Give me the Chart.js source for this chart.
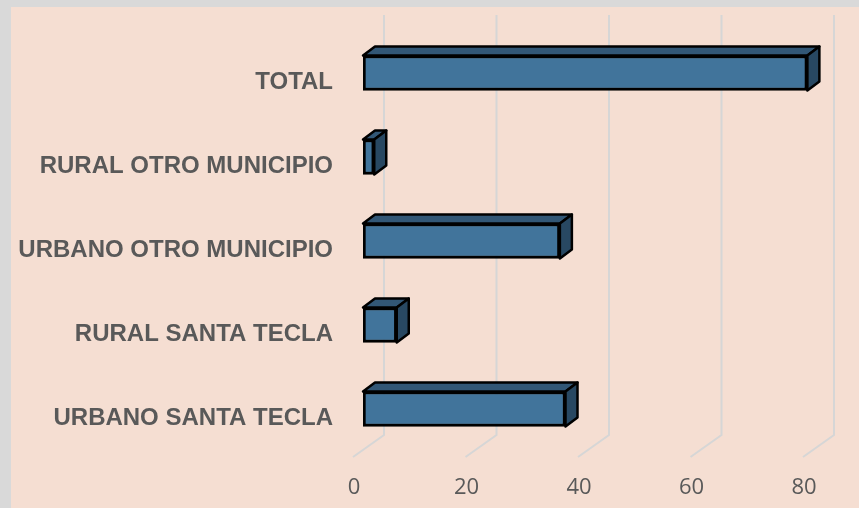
<!DOCTYPE html>
<html lang="es">
<head>
  <meta charset="UTF-8">
  <title>Procedencia</title>
  <script src="https://cdn.jsdelivr.net/npm/chart.js"></script>
  <style>
    body { margin: 0; background: #d9d9d9; }
    #wrap { position: absolute; left: 11px; top: 7px; width: 848px; height: 501px; background: #f5ded2; }
  </style>
</head>
<body>
  <div id="wrap"><canvas id="chart" width="848" height="501"></canvas></div>

  <script>
    // datos
    const categories = ['URBANO SANTA TECLA', 'RURAL SANTA TECLA', 'URBANO OTRO MUNICIPIO', 'RURAL OTRO MUNICIPIO', 'TOTAL'];
    const values = [36, 6, 35, 2, 79];
    const tickValues = [0, 20, 40, 60, 80];

    // 3D offsets
    const depth = { dx: 12, dy: -9 };
    const gridFront = { dx: -10, dy: 6 };
    const gridBack = { dx: 21, dy: -16 };

    const grid3d = {
      id: 'grid3d',
      beforeDatasetsDraw(chart) {
        const ctx = chart.ctx;
        const xs = chart.scales.x;
        const area = chart.chartArea;
        ctx.save();
        ctx.strokeStyle = '#d6d6d6';
        ctx.lineWidth = 2;
        tickValues.forEach(v => {
          const p = xs.getPixelForValue(v);
          ctx.beginPath();
          ctx.moveTo(p + gridFront.dx, area.bottom + gridFront.dy);
          ctx.lineTo(p + gridBack.dx, area.bottom + gridBack.dy);
          ctx.lineTo(p + gridBack.dx, area.top - 16);
          ctx.stroke();
        });
        ctx.restore();
      }
    };

    const bars3d = {
      id: 'bars3d',
      afterDatasetsDraw(chart) {
        const ctx = chart.ctx;
        const meta = chart.getDatasetMeta(0);
        ctx.save();
        ctx.lineWidth = 2.5;
        ctx.lineJoin = 'round';
        ctx.strokeStyle = '#000';
        meta.data.forEach(bar => {
          const { x, y, base, height } = bar.getProps(['x', 'y', 'base', 'height'], true);
          const l = base, r = x, t = y - height / 2, b = y + height / 2;
          // cara superior
          ctx.beginPath();
          ctx.moveTo(l, t);
          ctx.lineTo(l + depth.dx, t + depth.dy);
          ctx.lineTo(r + depth.dx, t + depth.dy);
          ctx.lineTo(r, t);
          ctx.closePath();
          ctx.fillStyle = '#325776';
          ctx.fill();
          ctx.stroke();
          // cara lateral
          ctx.beginPath();
          ctx.moveTo(r, t);
          ctx.lineTo(r + depth.dx, t + depth.dy);
          ctx.lineTo(r + depth.dx, b + depth.dy);
          ctx.lineTo(r, b);
          ctx.closePath();
          ctx.fillStyle = '#284862';
          ctx.fill();
          ctx.stroke();
        });
        ctx.restore();
      }
    };

    new Chart(document.getElementById('chart'), {
      type: 'bar',
      data: {
        labels: categories,
        datasets: [{
          data: values,
          backgroundColor: '#41749b',
          borderColor: '#000',
          borderWidth: 3,
          borderSkipped: false,
          barThickness: 35
        }]
      },
      options: {
        indexAxis: 'y',
        responsive: false,
        animation: false,
        devicePixelRatio: 1,
        layout: { padding: { top: 24, right: 46, left: 0, bottom: 0 } },
        plugins: { legend: { display: false }, tooltip: { enabled: false } },
        scales: {
          x: {
            min: 0, max: 80,
            afterFit(s) { s.height = 57; s.paddingLeft = 0; s.paddingRight = 0; },
            afterBuildTicks(s) { s.ticks = tickValues.map(v => ({ value: v })); },
            grid: { display: false, drawTicks: false },
            border: { display: false },
            ticks: {
              padding: 24,
              labelOffset: -9,
              color: '#595959',
              font: { family: 'Open Sans', size: 22 }
            }
          },
          y: {
            reverse: true,
            afterFit(s) { s.width = 352; s.paddingTop = 0; s.paddingBottom = 0; },
            grid: { display: false, drawTicks: false },
            border: { display: false },
            ticks: {
              padding: 30,
              labelOffset: 9,
              color: '#595959',
              font: { family: 'Liberation Sans', size: 24, weight: 'bold' }
            }
          }
        }
      },
      plugins: [grid3d, bars3d]
    });
  </script>
</body>
</html>
